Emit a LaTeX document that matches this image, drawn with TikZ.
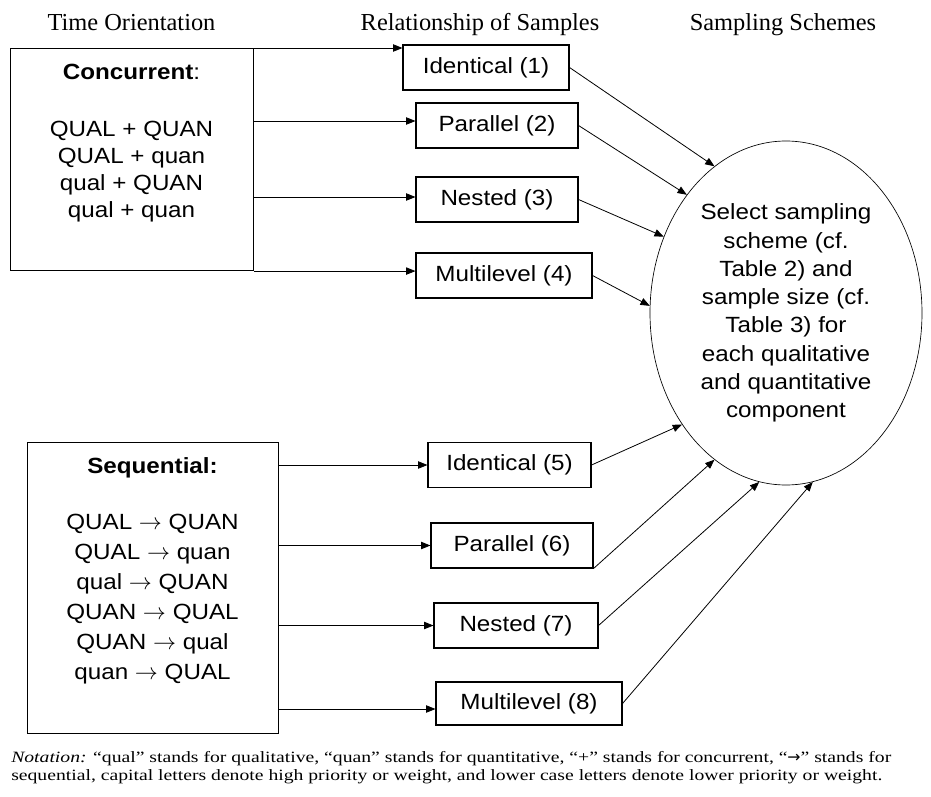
\documentclass[tikz,border=0pt]{standalone}
\usepackage{fontspec}
\setmainfont{Liberation Serif}
\newfontfamily\arialfont[FakeStretch=1.1]{Liberation Sans}
\newfontfamily\notefont[FakeStretch=1.25]{Liberation Serif}
\newfontfamily\symfont{DejaVu Sans}
\usetikzlibrary{positioning,arrows.meta,shapes.geometric,calc}

\tikzset{
  head/.style={font=\fontsize{18.3}{22}\selectfont, anchor=base, inner sep=0pt},
  timebox/.style={draw, line width=0.8pt, inner sep=0pt, anchor=north west},
  sbox/.style={draw, line width=0.8pt, inner sep=0pt, minimum height=33.75pt,
    font=\arialfont\fontsize{16.5}{20}\selectfont},
  link/.style={-{Triangle[length=7pt,width=5.5pt]}, line width=0.6pt},
}

\begin{document}
\begin{tikzpicture}[x=0.75pt, y=-0.75pt]
  \useasboundingbox (0,0) rectangle (931,796);

  % column headings
  \node[head] (h1) at (131.5,30) {Time Orientation};
  \node[head] (h2) at (480,30) {Relationship of Samples};
  \node[head] (h3) at (783,30) {Sampling Schemes};

  % time orientation boxes
  \node[timebox, minimum width=182.25pt, minimum height=166.5pt] (cc) at (10,48) {};
  \node[anchor=base, inner sep=0pt, font=\arialfont\fontsize{16.5}{20}\selectfont]
    (cctitle) at (131.5,79) {\textbf{Concurrent}:};
  \node[anchor=north, inner sep=0pt, align=center, font=\arialfont\fontsize{16.5}{20.25}\selectfont]
    (ccbody) at (131.5,121) {QUAL + QUAN\\ QUAL + quan\\ qual + QUAN\\ qual + quan};

  \node[timebox, minimum width=188.25pt, minimum height=218.25pt] (sq) at (27,442) {};
  \node[anchor=base, inner sep=0pt, font=\arialfont\fontsize{16.5}{20}\selectfont]
    (sqtitle) at (152.5,473) {\textbf{Sequential:}};
  \node[anchor=north, inner sep=0pt, align=center, font=\arialfont\fontsize{16.5}{22.5}\selectfont]
    (sqbody) at (152.5,514) {QUAL $\rightarrow$ QUAN\\ QUAL $\rightarrow$ quan\\ qual $\rightarrow$ QUAN\\
      QUAN $\rightarrow$ QUAL\\ QUAN $\rightarrow$ qual\\ quan $\rightarrow$ QUAL};

  % relationship of samples
  \node[sbox, minimum width=124.5pt] (id1) at (486,67.5) {Identical (1)};
  \node[sbox, minimum width=121.5pt] (p2) at (497,125.5) {Parallel (2)};
  \node[sbox, minimum width=121.5pt] (n3) at (497,199.5) {Nested (3)};
  \node[sbox, minimum width=132pt] (ml4) at (504,275.5) {Multilevel (4)};
  \node[sbox, minimum width=122.25pt] (id5) at (509.5,465) {Identical (5)};
  \node[sbox, minimum width=121.5pt] (p6) at (512,545.5) {Parallel (6)};
  \node[sbox, minimum width=123pt] (n7) at (516,625.5) {Nested (7)};
  \node[sbox, minimum width=139.5pt, minimum height=32.25pt] (ml8) at (529,703.5) {Multilevel (8)};

  % sampling scheme
  \node[ellipse, draw, line width=0.5pt, inner sep=0pt, minimum width=204pt, minimum height=258pt,
    align=center, font=\arialfont\fontsize{16.5}{21.2}\selectfont] (sel) at (786,313)
    {Select sampling\\ scheme (cf.\\ Table 2) and\\ sample size (cf.\\ Table 3) for\\ each qualitative\\ and quantitative\\ component};

  % time orientation -> relationship
  \draw[link] (cc.north east) -- (id1.west |- cc.north east);
  \draw[link] (cc.east |- 0,121) -- (p2.west |- 0,121);
  \draw[link] (cc.east |- 0,197) -- (n3.west |- 0,197);
  \draw[link] (cc.south east) -- (ml4.west |- cc.south east);
  \draw[link] (sq.east |- id5.west) -- (id5.west);
  \draw[link] (sq.east |- p6.west) -- (p6.west);
  \draw[link] (sq.east |- n7.west) -- (n7.west);
  \draw[link] (sq.east |- 0,709) -- (ml8.west |- 0,709);

  % relationship -> sampling scheme
  \draw[link] (id1.east) -- (sel.116.6);
  \draw[link] (p2.east) -- (sel.130.9);
  \draw[link] (n3.east) -- (sel.148.8);
  \draw[link] (ml4.east) -- (sel.177.5);
  \draw[link] (id5.east) -- (sel.227.4);
  \draw[link] (p6.south east) -- (sel.244.2);
  \draw[link] (n7.east) -- (sel.261.1);
  \draw[link] (ml8.east) -- (sel.279.7);

  % notation
  \node[anchor=north west, inner sep=0pt, align=left, font=\notefont\fontsize{11.8}{13.5}\selectfont]
    (note) at (11,751)
    {\textit{Notation:} “qual” stands for qualitative, “quan” stands for quantitative, “+” stands for concurrent, “{\symfont →}” stands for\\
     sequential, capital letters denote high priority or weight, and lower case letters denote lower priority or weight.};
\end{tikzpicture}
\end{document}
